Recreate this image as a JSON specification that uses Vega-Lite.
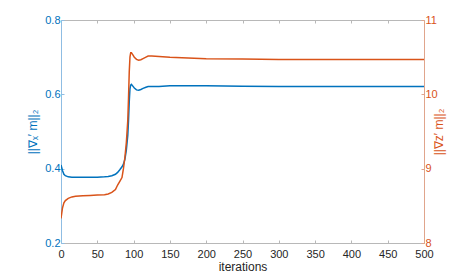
{
  "$schema": "https://vega.github.io/schema/vega-lite/v6.json",
  "autosize": {"type": "none"},
  "width": 363,
  "height": 223,
  "padding": {"left": 61, "top": 20, "right": 44, "bottom": 30},
  "background": "white",
  "config": {
    "view": {"stroke": null},
    "font": "Liberation Sans",
    "axis": {"grid": false, "labelFontSize": 11, "titleFontSize": 12, "titleFontWeight": "normal", "labelFont": "Liberation Sans", "titleFont": "Liberation Sans"}
  },
  "data": {"values": [
    {"it": 0, "gx": 0.41, "gz": 8.33},
    {"it": 2, "gx": 0.395, "gz": 8.47},
    {"it": 4, "gx": 0.385, "gz": 8.54},
    {"it": 6, "gx": 0.381, "gz": 8.57},
    {"it": 10, "gx": 0.378, "gz": 8.6},
    {"it": 15, "gx": 0.377, "gz": 8.62},
    {"it": 20, "gx": 0.377, "gz": 8.63},
    {"it": 30, "gx": 0.377, "gz": 8.635},
    {"it": 40, "gx": 0.377, "gz": 8.64},
    {"it": 50, "gx": 0.377, "gz": 8.645},
    {"it": 60, "gx": 0.378, "gz": 8.65},
    {"it": 65, "gx": 0.379, "gz": 8.66},
    {"it": 70, "gx": 0.381, "gz": 8.68},
    {"it": 75, "gx": 0.385, "gz": 8.72},
    {"it": 78, "gx": 0.39, "gz": 8.78},
    {"it": 81, "gx": 0.397, "gz": 8.83},
    {"it": 84, "gx": 0.405, "gz": 8.88},
    {"it": 86, "gx": 0.412, "gz": 9.0},
    {"it": 88, "gx": 0.425, "gz": 9.15},
    {"it": 90, "gx": 0.45, "gz": 9.35},
    {"it": 92, "gx": 0.49, "gz": 9.65},
    {"it": 93, "gx": 0.53, "gz": 9.95},
    {"it": 94, "gx": 0.58, "gz": 10.3},
    {"it": 95, "gx": 0.615, "gz": 10.5},
    {"it": 96, "gx": 0.625, "gz": 10.56},
    {"it": 97, "gx": 0.627, "gz": 10.56},
    {"it": 99, "gx": 0.622, "gz": 10.53},
    {"it": 101, "gx": 0.617, "gz": 10.5},
    {"it": 104, "gx": 0.612, "gz": 10.47},
    {"it": 107, "gx": 0.611, "gz": 10.46},
    {"it": 110, "gx": 0.613, "gz": 10.465},
    {"it": 113, "gx": 0.616, "gz": 10.48},
    {"it": 117, "gx": 0.619, "gz": 10.5},
    {"it": 120, "gx": 0.621, "gz": 10.515},
    {"it": 125, "gx": 0.621, "gz": 10.515},
    {"it": 135, "gx": 0.621, "gz": 10.51},
    {"it": 150, "gx": 0.623, "gz": 10.5},
    {"it": 175, "gx": 0.623, "gz": 10.49},
    {"it": 200, "gx": 0.623, "gz": 10.48},
    {"it": 250, "gx": 0.622, "gz": 10.475},
    {"it": 300, "gx": 0.621, "gz": 10.47},
    {"it": 400, "gx": 0.621, "gz": 10.47},
    {"it": 500, "gx": 0.621, "gz": 10.467}
  ]},
  "layer": [
    {
      "mark": {"type": "line", "color": "#0072BD", "strokeWidth": 1.5, "clip": true},
      "encoding": {
        "x": {"field": "it", "type": "quantitative", "scale": {"domain": [0, 500], "nice": false},
          "axis": {"orient": "bottom", "title": "iterations", "values": [0,50,100,150,200,250,300,350,400,450,500], "tickSize": -3, "labelPadding": 8, "labelColor": "#262626", "titleColor": "#262626", "domainColor": "#b8b8b8", "tickColor": "#b8b8b8", "titlePadding": 2, "labelFlush": false}},
        "y": {"field": "gx", "type": "quantitative", "scale": {"domain": [0.2, 0.8], "nice": false, "zero": false},
          "axis": {"orient": "left", "title": "||∇ₓ′ m||₂", "values": [0.2, 0.4, 0.6, 0.8], "format": ".1f", "tickSize": -3, "labelPadding": 4, "labelColor": "#0072BD", "titleColor": "#0072BD", "domainColor": "#8fbde3", "tickColor": "#8fbde3", "titlePadding": 5}}
      }
    },
    {
      "mark": {"type": "line", "color": "#D95319", "strokeWidth": 1.5, "clip": true},
      "encoding": {
        "x": {"field": "it", "type": "quantitative", "scale": {"domain": [0, 500], "nice": false},
          "axis": {"orient": "top", "title": null, "labels": false, "values": [0,50,100,150,200,250,300,350,400,450,500], "tickSize": -3, "domainColor": "#b8b8b8", "tickColor": "#b8b8b8"}},
        "y": {"field": "gz", "type": "quantitative", "scale": {"domain": [8, 11], "nice": false, "zero": false},
          "axis": {"orient": "right", "title": "||∇z′ m||₂", "titleAngle": 270, "values": [8, 9, 10, 11], "format": "d", "tickSize": -3, "labelPadding": 4, "labelColor": "#D95319", "titleColor": "#D95319", "domainColor": "#e0a58c", "tickColor": "#e0a58c", "titlePadding": 8}}
      }
    }
  ],
  "resolve": {"scale": {"y": "independent"}, "axis": {"x": "independent"}}
}
